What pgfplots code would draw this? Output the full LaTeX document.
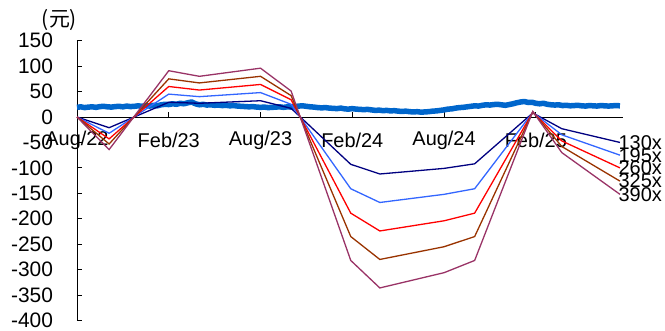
\documentclass[border=0pt]{standalone}
\usepackage{fontspec}
\setmainfont{Liberation Sans}
\newfontfamily\cjk{Noto Sans CJK SC}
\usepackage{pgfplots}
\pgfplotsset{compat=1.18}
\definecolor{cNavy}{HTML}{000080}
\definecolor{cBlue}{HTML}{3366FF}
\definecolor{cRed}{HTML}{FF0000}
\definecolor{cBrown}{HTML}{993300}
\definecolor{cPurple}{HTML}{993366}
\definecolor{cThick}{HTML}{0066CC}
\begin{document}
\begin{tikzpicture}
\path[use as bounding box] (-77bp,-10.5bp) rectangle (588bp,320.5bp);
\begin{axis}[
 scale only axis, width=546bp, height=279.8bp,
 xmin=0, xmax=35.7, ymin=-400, ymax=150,
 axis x line*=middle, axis y line*=left,
 hide obscured x ticks=false, hide obscured y ticks=false,
 xtick={0,6,12,18,24,30},
 xticklabels={Aug/22,Feb/23,Aug/23,Feb/24,Aug/24,Feb/25},
 ytick={-400,-350,...,150},
 tick align=inside, major tick length=5bp,
 tick style={black, line width=0.8bp},
 axis line style={black, line width=0.8bp},
 xticklabel style={font=\fontsize{20}{24}\selectfont, anchor=center, yshift=-23.5bp},
 yticklabel style={font=\fontsize{21}{24}\selectfont, xshift=-20.5bp},
 /pgf/number format/assume math mode=true,
 clip=false,
]
\addplot[cThick, line width=5.5bp, line join=round] coordinates {
(0.00,19) (0.25,20) (0.50,18.5) (0.75,19.5) (1.00,20) (1.25,19) (1.50,20.5) (1.75,21)
(2.00,20) (2.25,19.5) (2.50,20.5) (2.75,21) (3.00,20) (3.25,21.5) (3.50,20.5) (3.75,21)
(4.00,22) (4.25,21) (4.50,22.5) (4.75,21.5) (5.00,23) (5.25,22) (5.50,24) (5.75,25)
(6.00,24.5) (6.25,26) (6.50,25) (6.75,27) (7.00,26) (7.25,28) (7.50,29.5) (7.75,26)
(8.00,24) (8.25,25) (8.50,23.5) (8.75,24) (9.00,23) (9.25,23.5) (9.50,22.5) (9.75,23)
(10.00,22) (10.25,22.5) (10.50,21.5) (10.75,21) (11.00,20.5) (11.25,20) (11.50,20.5) (11.75,19.5)
(12.00,19) (12.25,19.5) (12.50,18.5) (12.75,19) (13.00,19.5) (13.25,20) (13.50,19) (13.75,20)
(14.00,19.5) (14.25,20.5) (14.50,21.5) (14.75,22) (15.00,21) (15.25,20) (15.50,19.5) (15.75,18.5)
(16.00,18) (16.25,18.5) (16.50,17.5) (16.75,17) (17.00,16.5) (17.25,17.5) (17.50,16) (17.75,15.5)
(18.00,16.5) (18.25,15.5) (18.50,15) (18.75,14.5) (19.00,15) (19.25,14) (19.50,13) (19.75,13.5)
(20.00,12.5) (20.25,13) (20.50,12) (20.75,12.5) (21.00,11.5) (21.25,11) (21.50,11.5) (21.75,10.5)
(22.00,10) (22.25,10.5) (22.50,9.5) (22.75,10) (23.00,10.5) (23.25,11.5) (23.50,12) (23.75,13)
(24.00,14) (24.25,15.5) (24.50,16) (24.75,17.5) (25.00,18.5) (25.25,19) (25.50,20) (25.75,21)
(26.00,22) (26.25,21.5) (26.50,23) (26.75,24) (27.00,23.5) (27.25,24.5) (27.50,25) (27.75,24)
(28.00,23) (28.25,24.5) (28.50,26) (28.75,28) (29.00,29.5) (29.25,30.5) (29.50,28.5) (29.75,29)
(30.00,27) (30.25,26) (30.50,27) (30.75,25) (31.00,24) (31.25,23.5) (31.50,24) (31.75,22.5)
(32.00,23) (32.25,22) (32.50,22.5) (32.75,23) (33.00,22) (33.25,21.5) (33.50,22.5) (33.75,22)
(34.00,21.5) (34.25,22.5) (34.50,22) (34.75,21.5) (35.00,22) (35.25,22.5) (35.50,22)
};
\addplot[cNavy, line width=1.3bp] coordinates {
(0,0) (2.1,-21) (6,29) (8,27) (12,32) (14,17) (17.9,-93) (19.8,-112) (24,-101) (26,-92) (29.8,8) (31.7,-23) (35.5,-50)
} node[pos=1, anchor=west, inner sep=0pt, xshift=-2bp, text=black, font=\fontsize{20}{24}\selectfont] {130x};
\addplot[cBlue, line width=1.3bp] coordinates {
(0,0) (2.1,-32) (6,45) (8,40) (12,48) (14,25) (17.9,-141) (19.8,-168) (24,-152) (26,-141) (29.8,9) (31.7,-35) (35.5,-75)
} node[pos=1, anchor=west, inner sep=0pt, xshift=-2bp, text=black, font=\fontsize{20}{24}\selectfont] {195x};
\addplot[cRed, line width=1.3bp] coordinates {
(0,0) (2.1,-43) (6,60) (8,53) (12,64) (14,34) (17.9,-189) (19.8,-224) (24,-204) (26,-189) (29.8,9.5) (31.7,-47) (35.5,-100)
} node[pos=1, anchor=west, inner sep=0pt, xshift=-2bp, text=black, font=\fontsize{20}{24}\selectfont] {260x};
\addplot[cBrown, line width=1.3bp] coordinates {
(0,0) (2.1,-53) (6,75) (8,67) (12,80) (14,42) (17.9,-235) (19.8,-280) (24,-255) (26,-235) (29.8,10) (31.7,-58) (35.5,-126)
} node[pos=1, anchor=west, inner sep=0pt, xshift=-2bp, text=black, font=\fontsize{20}{24}\selectfont] {325x};
\addplot[cPurple, line width=1.3bp] coordinates {
(0,0) (2.1,-64) (6,91) (8,80) (12,96) (14,51) (17.9,-282) (19.8,-336) (24,-306) (26,-282) (29.8,11) (31.7,-70) (35.5,-152)
} node[pos=1, anchor=west, inner sep=0pt, xshift=-2bp, text=black, font=\fontsize{20}{24}\selectfont] {390x};
\end{axis}
\node[font=\cjk\fontsize{21}{24}\selectfont, inner sep=0pt] at (-17.5bp,300.5bp) {(元)};
\end{tikzpicture}
\end{document}
